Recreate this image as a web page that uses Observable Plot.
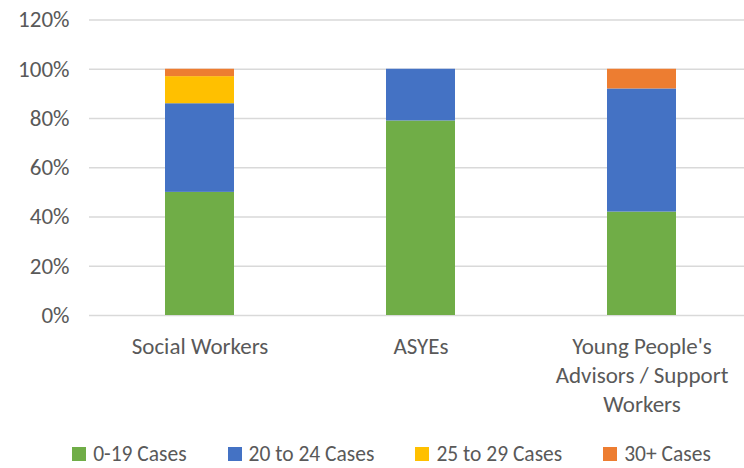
<!DOCTYPE html>
<html>
<head>
<meta charset="utf-8">
<script src="https://cdn.jsdelivr.net/npm/d3@7"></script>
<script src="https://cdn.jsdelivr.net/npm/@observablehq/plot@0.6"></script>
<style>
  html, body { margin: 0; padding: 0; background: #fff; overflow: hidden; }
  body { width: 744px; height: 468px; font-family: Carlito, Lato, "Open Sans", sans-serif; color: #595959; }
  #chart svg { display: block; overflow: hidden; }
  #legend { display: flex; justify-content: center; align-items: center; gap: 41px; margin-top: 14px; height: 20px; line-height: 20px; font-size: 21.5px; color: #595959; padding-left: 39px; }
  .item { display: flex; align-items: center; gap: 7px; white-space: nowrap; }
  .sw { width: 14px; height: 14px; display: inline-block; }
</style>
</head>
<body>
<div id="chart"></div>
<div id="legend"></div>
<script>
const groups = ["Social Workers", "ASYEs", "Young People's Advisors / Support Workers"];
const groupLabels = ["Social Workers", "ASYEs", "Young People's\nAdvisors / Support\nWorkers"];
const series = ["0-19 Cases", "20 to 24 Cases", "25 to 29 Cases", "30+ Cases"];
const colors = ["#70AD47", "#4472C4", "#FFC000", "#ED7D31"];
const cases0to19 = [50, 79, 42];
const cases20to24 = [36, 21, 50];
const cases25to29 = [11, 0, 0];
const cases30plus = [3, 0, 8];
const yTicks = [0, 20, 40, 60, 80, 100, 120];

const seriesValues = [cases0to19, cases20to24, cases25to29, cases30plus];
const rows = [];
series.forEach((s, i) => {
  groups.forEach((g, j) => {
    rows.push({group: g, series: s, value: seriesValues[i][j]});
  });
});
const labelOf = new Map(groups.map((g, i) => [g, groupLabels[i]]));

const chart = Plot.plot({
  width: 744,
  height: 430,
  marginTop: 19.5,
  marginBottom: 115,
  marginLeft: 89,
  marginRight: -8,
  style: {fontFamily: "Carlito, Lato, 'Open Sans', sans-serif", color: "#595959", background: "#fff"},
  x: {domain: groups, paddingInner: 0.688, paddingOuter: 0.344, label: null},
  y: {domain: [0, 120], ticks: yTicks, label: null},
  color: {domain: series, range: colors},
  marks: [
    Plot.gridY(yTicks, {stroke: "#d9d9d9", strokeOpacity: 1, strokeWidth: 1.3}),
    Plot.barY(rows, Plot.stackY({x: "group", y: "value", fill: "series", order: series})),
    Plot.axisY(yTicks, {tickSize: 0, tickPadding: 20, fontSize: 23, fill: "#595959", tickFormat: d => d + "%", label: null}),
    Plot.axisX({tickSize: 0, tickPadding: 18, fontSize: 23, lineHeight: 1.26, fill: "#595959", tickFormat: d => labelOf.get(d), label: null})
  ]
});
document.getElementById("chart").appendChild(chart);

const legend = document.getElementById("legend");
series.forEach((s, i) => {
  const item = document.createElement("div");
  item.className = "item";
  const sw = document.createElement("span");
  sw.className = "sw";
  sw.style.background = colors[i];
  const t = document.createElement("span");
  t.textContent = s;
  item.appendChild(sw);
  item.appendChild(t);
  legend.appendChild(item);
});
</script>
</body>
</html>
